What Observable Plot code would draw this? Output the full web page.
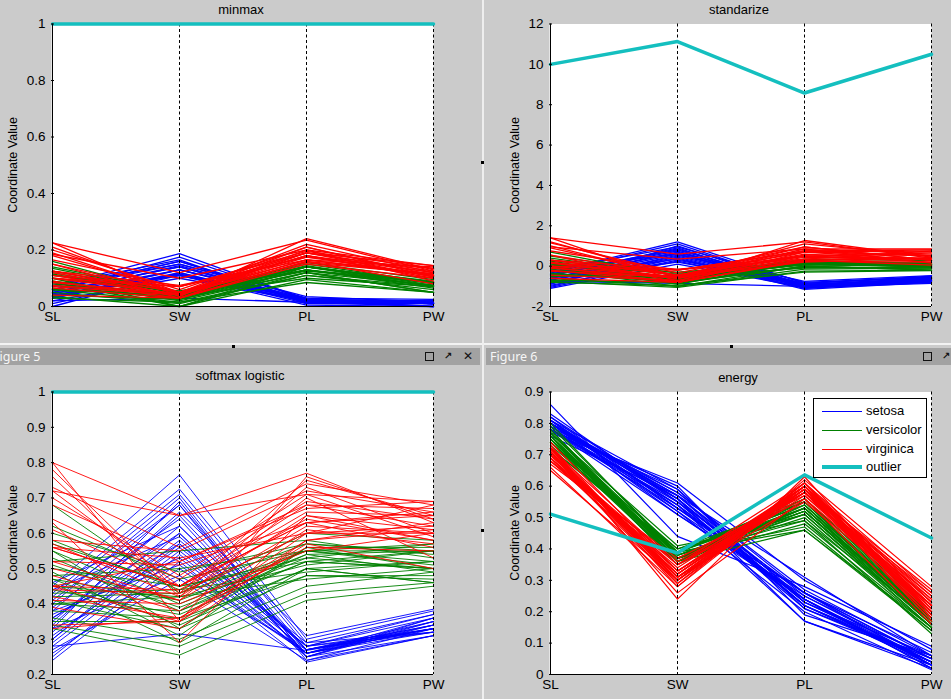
<!DOCTYPE html>
<html><head><meta charset="utf-8">
<script src="https://cdn.jsdelivr.net/npm/d3@7"></script>
<script src="https://cdn.jsdelivr.net/npm/@observablehq/plot@0.6"></script>
<style>
html,body{margin:0;padding:0}
body{width:951px;height:699px;overflow:hidden;background:#cbcbcb;font-family:"Liberation Sans",Arial,sans-serif;position:relative}
.abs{position:absolute}
.title{position:absolute;font-size:13px;color:#000;transform:translate(-50%,-50%);white-space:nowrap}
.ylab{position:absolute;font-size:12.5px;color:#000;transform:translate(-50%,-50%) rotate(-90deg);white-space:nowrap}
.bar{position:absolute;background:#a2a2a2;height:17px;top:348px;overflow:hidden}
.bar span.t{position:absolute;top:0px;font-family:"Noto Sans","Open Sans",sans-serif;font-size:12.5px;color:#f6f6f6;line-height:17px;white-space:nowrap}
.sq{position:absolute;width:7px;height:7px;border:1.5px solid #111;top:352px}
.ic{position:absolute;font-family:"DejaVu Sans",sans-serif;font-size:12px;color:#111;top:349px;line-height:14px;font-weight:bold}
.dot{position:absolute;width:3px;height:3px;background:#000}
.legend{position:absolute;left:813px;top:398px;width:112px;height:78px;border:1px solid #000;background:#fff}
.legend .row{position:absolute;left:0;height:16px;width:112px}
.legend .sw{position:absolute;left:8px;width:40px}
.legend .lt{position:absolute;left:52px;font-size:13px;line-height:16px;top:0}
</style></head><body>
<script>
// ---------- data ----------
const dims = ["SL", "SW", "PL", "PW"];
const species = ["setosa", "versicolor", "virginica", "outlier"];
const colors = ["#0000ff", "#008000", "#ff0000", "#14bfbf"];

// minmax
const mmSetosa = [
  [0.05,0.14,0.02,0.01],[0.04,0.11,0.02,0.01],[0.03,0.12,0.01,0.01],[0.03,0.115,0.025,0.01],
  [0.045,0.145,0.02,0.01],[0.06,0.16,0.03,0.025],[0.03,0.13,0.02,0.02],[0.045,0.13,0.025,0.01],
  [0.02,0.10,0.02,0.01],[0.04,0.115,0.025,0.0],[0.06,0.15,0.025,0.01],[0.035,0.13,0.03,0.01],
  [0.035,0.11,0.02,0.0],[0.01,0.11,0.005,0.0],[0.075,0.165,0.01,0.01],[0.07,0.187,0.025,0.02],
  [0.06,0.16,0.015,0.02],[0.05,0.14,0.02,0.015],[0.07,0.15,0.035,0.015],[0.02,0.03,0.015,0.015],
  [0.0,0.12,0.015,0.0],[0.055,0.175,0.025,0.01]
];
const mmVersicolor = [
  [0.14,0.05,0.14,0.08],[0.11,0.05,0.13,0.085],[0.135,0.045,0.15,0.085],[0.05,0.01,0.11,0.07],
  [0.115,0.03,0.14,0.085],[0.065,0.03,0.13,0.07],[0.10,0.055,0.14,0.09],[0.03,0.015,0.085,0.05],
  [0.12,0.035,0.14,0.07],[0.04,0.025,0.12,0.075],[0.035,0.0,0.095,0.05],[0.08,0.04,0.125,0.085],
  [0.085,0.0,0.12,0.05],[0.09,0.035,0.145,0.075],[0.06,0.035,0.10,0.07],[0.125,0.045,0.13,0.075],
  [0.06,0.04,0.14,0.085],[0.09,0.02,0.12,0.05],[0.10,0.0,0.14,0.085],[0.06,0.015,0.11,0.06],
  [0.16,0.04,0.155,0.095],[0.075,0.025,0.13,0.065]
];
const mmVirginica = [
  [0.10,0.07,0.19,0.145],[0.07,0.04,0.165,0.11],[0.18,0.05,0.19,0.12],[0.10,0.045,0.18,0.105],
  [0.125,0.05,0.19,0.125],[0.21,0.05,0.22,0.12],[0.04,0.03,0.15,0.10],[0.19,0.045,0.21,0.105],
  [0.15,0.03,0.19,0.105],[0.185,0.10,0.20,0.145],[0.125,0.075,0.165,0.115],[0.11,0.04,0.175,0.11],
  [0.15,0.05,0.18,0.12],[0.065,0.03,0.16,0.115],[0.075,0.045,0.165,0.14],[0.11,0.07,0.175,0.135],
  [0.125,0.05,0.18,0.10],[0.225,0.12,0.235,0.125],[0.225,0.035,0.24,0.13],[0.09,0.03,0.16,0.08],
  [0.165,0.07,0.195,0.135],[0.085,0.045,0.155,0.115],[0.20,0.06,0.21,0.11],[0.12,0.04,0.20,0.09]
];
const mmOutlier = [1, 1, 1, 1];
const mmTicks = [0, 0.2, 0.4, 0.6, 0.8, 1];

// standarize
const stSetosa = [
  [-0.9,1.0,-1.0,-0.7],[-1.1,0.1,-1.05,-0.75],[-0.4,0.8,-0.9,-0.6],[-0.8,0.5,-1.0,-0.8],
  [-0.6,0.7,-0.95,-0.7],[-0.3,1.2,-0.85,-0.5],[-0.5,0.9,-1.1,-0.65],[-0.95,0.3,-0.9,-0.75],
  [-0.7,0.6,-1.0,-0.6],[-0.2,0.95,-0.8,-0.55],[-1.0,0.4,-1.15,-0.8],[-0.65,0.2,-0.95,-0.7],
  [-0.45,0.75,-1.05,-0.72],[-0.85,0.55,-0.9,-0.66],[-0.55,0.35,-1.0,-0.58],[-0.75,-0.85,-1.0,-0.7],
  [-0.35,1.1,-0.95,-0.6],[-0.6,0.65,-0.75,-0.47],[-0.85,0.45,-1.1,-0.78],[-0.15,0.6,-0.85,-0.55],
  [-1.05,0.25,-1.05,-0.85],[-0.4,0.85,-1.0,-0.62]
];
const stVersicolor = [
  [0.5,-0.35,0.2,0.05],[0.1,-0.4,0.1,0.1],[0.4,-0.45,0.3,0.1],[-0.6,-1.0,-0.15,-0.1],
  [0.15,-0.7,0.15,0.1],[-0.4,-0.7,0.1,-0.05],[0.05,-0.3,0.2,0.15],[-0.8,-0.95,-0.3,-0.22],
  [0.25,-0.65,0.15,-0.05],[-0.7,-0.8,0.0,0.05],[-0.75,-1.05,-0.25,-0.2],[-0.2,-0.5,0.05,0.1],
  [-0.15,-1.0,0.0,-0.2],[-0.1,-0.6,0.2,0.0],[-0.45,-0.55,-0.1,-0.05],[0.3,-0.45,0.1,0.0],
  [-0.5,-0.5,0.2,0.1],[-0.05,-0.85,0.0,-0.2],[0.0,-0.9,0.25,0.15],[-0.35,-0.8,-0.05,-0.1],
  [0.7,-0.5,0.35,0.28],[-0.25,-0.65,0.1,0.0]
];
const stVirginica = [
  [0.0,-0.2,0.75,0.8],[-0.45,-0.7,0.45,0.4],[0.9,-0.5,0.75,0.5],[0.0,-0.55,0.6,0.3],
  [0.3,-0.45,0.7,0.55],[1.2,-0.5,1.1,0.5],[-0.6,-0.8,0.25,0.2],[1.0,-0.55,0.95,0.3],
  [0.55,-0.8,0.7,0.3],[0.95,0.35,0.85,0.85],[0.3,-0.15,0.35,0.4],[0.15,-0.6,0.5,0.35],
  [0.55,-0.45,0.55,0.55],[-0.2,-0.8,0.3,0.4],[-0.1,-0.6,0.35,0.75],[0.15,-0.2,0.5,0.65],
  [0.3,-0.45,0.5,0.2],[1.4,0.6,1.2,0.4],[1.4,-0.75,1.27,0.45],[-0.05,-0.8,0.3,0.05],
  [0.75,-0.2,0.75,0.7],[-0.25,-0.55,0.2,0.4],[1.15,-0.35,0.95,0.3],[0.2,-0.55,0.85,0.15]
];
const stOutlier = [10.0, 11.13, 8.58, 10.5];
const stTicks = [-2, 0, 2, 4, 6, 8, 10, 12];

// softmax logistic
const smSetosa = [
  [0.32,0.62,0.27,0.33],[0.26,0.50,0.26,0.33],[0.40,0.70,0.25,0.35],[0.30,0.58,0.28,0.32],
  [0.35,0.65,0.27,0.34],[0.45,0.765,0.30,0.38],[0.38,0.68,0.24,0.33],[0.28,0.55,0.27,0.32],
  [0.36,0.60,0.26,0.36],[0.43,0.725,0.29,0.37],[0.24,0.52,0.235,0.31],[0.33,0.48,0.27,0.33],
  [0.39,0.64,0.25,0.34],[0.31,0.56,0.28,0.33],[0.37,0.53,0.26,0.35],[0.28,0.315,0.268,0.33],
  [0.42,0.71,0.28,0.36],[0.34,0.66,0.31,0.385],[0.29,0.57,0.25,0.31],[0.46,0.62,0.27,0.34],
  [0.25,0.54,0.26,0.32],[0.41,0.68,0.27,0.35],[0.30,0.60,0.26,0.34],[0.36,0.57,0.29,0.32],
  [0.33,0.69,0.25,0.36],[0.27,0.47,0.24,0.31],[0.44,0.59,0.28,0.37],[0.38,0.51,0.26,0.33]
];
const smVersicolor = [
  [0.62,0.47,0.55,0.52],[0.50,0.45,0.52,0.55],[0.58,0.44,0.57,0.55],[0.36,0.30,0.45,0.49],
  [0.53,0.38,0.54,0.55],[0.40,0.38,0.52,0.50],[0.48,0.50,0.55,0.57],[0.33,0.255,0.41,0.45],
  [0.55,0.40,0.54,0.49],[0.35,0.35,0.50,0.52],[0.34,0.28,0.43,0.46],[0.45,0.42,0.51,0.55],
  [0.46,0.29,0.50,0.46],[0.47,0.41,0.55,0.51],[0.40,0.42,0.47,0.50],[0.57,0.45,0.53,0.50],
  [0.42,0.43,0.55,0.55],[0.47,0.34,0.50,0.46],[0.49,0.31,0.56,0.56],[0.41,0.33,0.48,0.48],
  [0.68,0.43,0.60,0.58],[0.44,0.37,0.52,0.50],[0.52,0.55,0.58,0.53],[0.60,0.49,0.57,0.54],
  [0.38,0.36,0.48,0.47],[0.51,0.39,0.53,0.57],[0.43,0.44,0.49,0.52],[0.55,0.33,0.56,0.50]
];
const smVirginica = [
  [0.45,0.52,0.67,0.69],[0.34,0.35,0.60,0.60],[0.72,0.45,0.68,0.62],[0.45,0.44,0.64,0.58],
  [0.56,0.45,0.66,0.65],[0.78,0.43,0.75,0.65],[0.33,0.36,0.56,0.55],[0.76,0.42,0.73,0.60],
  [0.63,0.29,0.65,0.58],[0.72,0.65,0.71,0.69],[0.56,0.53,0.60,0.62],[0.50,0.41,0.62,0.60],
  [0.61,0.45,0.63,0.65],[0.42,0.36,0.58,0.61],[0.44,0.43,0.60,0.68],[0.52,0.51,0.63,0.66],
  [0.56,0.45,0.63,0.56],[0.80,0.65,0.77,0.63],[0.80,0.35,0.76,0.64],[0.45,0.35,0.57,0.50],
  [0.68,0.52,0.68,0.67],[0.41,0.40,0.55,0.60],[0.70,0.48,0.71,0.59],[0.52,0.41,0.70,0.53],
  [0.58,0.55,0.72,0.66],[0.64,0.47,0.69,0.64],[0.48,0.38,0.61,0.57],[0.73,0.56,0.74,0.68],
  [0.57,0.42,0.65,0.61],[0.39,0.33,0.58,0.63]
];
const smOutlier = [1, 1, 1, 1];
const smTicks = [0.2, 0.3, 0.4, 0.5, 0.6, 0.7, 0.8, 0.9, 1];

// energy
const enSetosa = [
  [0.80,0.56,0.23,0.04],[0.79,0.52,0.24,0.04],[0.81,0.55,0.22,0.04],[0.78,0.53,0.26,0.05],
  [0.80,0.57,0.22,0.04],[0.80,0.58,0.26,0.07],[0.78,0.56,0.23,0.06],[0.80,0.54,0.24,0.03],
  [0.78,0.51,0.25,0.04],[0.81,0.53,0.24,0.02],[0.80,0.57,0.24,0.03],[0.78,0.55,0.26,0.03],
  [0.80,0.51,0.24,0.02],[0.80,0.54,0.17,0.02],[0.82,0.56,0.17,0.03],[0.78,0.59,0.21,0.05],
  [0.78,0.60,0.19,0.06],[0.80,0.56,0.22,0.05],[0.79,0.58,0.27,0.06],[0.86,0.44,0.28,0.09],
  [0.77,0.61,0.30,0.08],[0.83,0.55,0.21,0.04],[0.76,0.57,0.31,0.06],[0.81,0.52,0.20,0.015],
  [0.79,0.57,0.25,0.05],[0.81,0.59,0.23,0.04],[0.78,0.54,0.22,0.03],[0.82,0.53,0.26,0.05]
];
const enVersicolor = [
  [0.75,0.36,0.53,0.17],[0.75,0.38,0.52,0.18],[0.76,0.36,0.53,0.17],[0.76,0.35,0.54,0.18],
  [0.76,0.37,0.53,0.18],[0.74,0.39,0.54,0.16],[0.74,0.39,0.53,0.18],[0.79,0.39,0.46,0.15],
  [0.76,0.37,0.52,0.16],[0.72,0.40,0.55,0.19],[0.78,0.36,0.46,0.14],[0.74,0.39,0.54,0.19],
  [0.78,0.37,0.48,0.15],[0.75,0.37,0.55,0.17],[0.77,0.41,0.49,0.17],[0.76,0.38,0.52,0.17],
  [0.73,0.39,0.55,0.18],[0.77,0.37,0.50,0.15],[0.74,0.36,0.56,0.19],[0.76,0.37,0.51,0.15],
  [0.72,0.39,0.56,0.20],[0.77,0.39,0.47,0.14],[0.75,0.40,0.51,0.16],[0.80,0.38,0.49,0.13],
  [0.76,0.38,0.53,0.17],[0.75,0.37,0.52,0.16],[0.77,0.38,0.51,0.16]
];
const enVirginica = [
  [0.69,0.34,0.60,0.25],[0.71,0.31,0.59,0.22],[0.71,0.30,0.60,0.20],[0.70,0.32,0.59,0.19],
  [0.70,0.32,0.60,0.22],[0.72,0.29,0.61,0.20],[0.70,0.31,0.57,0.21],[0.73,0.30,0.59,0.17],
  [0.72,0.28,0.60,0.19],[0.68,0.36,0.58,0.25],[0.70,0.35,0.56,0.22],[0.71,0.30,0.58,0.21],
  [0.70,0.33,0.59,0.23],[0.69,0.29,0.59,0.23],[0.68,0.32,0.59,0.27],[0.68,0.35,0.58,0.26],
  [0.71,0.33,0.58,0.20],[0.72,0.35,0.61,0.19],[0.73,0.24,0.63,0.19],[0.71,0.26,0.56,0.16],
  [0.69,0.33,0.60,0.24],[0.71,0.31,0.55,0.22],[0.72,0.31,0.60,0.18],[0.66,0.28,0.62,0.28],
  [0.65,0.30,0.61,0.26],[0.74,0.33,0.58,0.18],[0.67,0.37,0.57,0.24],[0.70,0.31,0.61,0.23],
  [0.71,0.32,0.60,0.21],[0.69,0.30,0.58,0.22]
];
const enOutlier = [0.511, 0.387, 0.636, 0.435];
const enTicks = [0, 0.1, 0.2, 0.3, 0.4, 0.5, 0.6, 0.7, 0.8, 0.9];

// ---------- drawing ----------
function panel(cfg) {
  const rows = [];
  cfg.sets.forEach((arr, s) => arr.forEach((vals, i) => vals.forEach((v, j) =>
    rows.push({id: species[s] + i, species: species[s], dim: dims[j], value: v}))));
  const outRows = cfg.outlier.map((v, j) => ({dim: dims[j], value: v}));
  const y0 = cfg.ticks[0], y1 = cfg.ticks[cfg.ticks.length - 1];
  const svg = Plot.plot({
    width: cfg.width, height: cfg.height,
    marginLeft: cfg.mL, marginRight: cfg.mR, marginTop: cfg.mT, marginBottom: cfg.mB,
    style: {background: "transparent", fontFamily: "Liberation Sans, Arial, sans-serif", fontSize: "13.5px", color: "#000", overflow: "visible"},
    x: {type: "point", domain: dims, padding: 0, axis: null, label: null},
    y: {domain: [y0, y1], axis: null, label: null},
    color: {domain: species, range: colors},
    marks: [
      Plot.frame({fill: "white", stroke: "none"}),
      Plot.line(rows, {x: "dim", y: "value", z: "id", stroke: "species", strokeWidth: cfg.lw}),
      Plot.ruleX(dims.slice(1), {stroke: "black", strokeWidth: 1, strokeDasharray: "3,2.5"}),
      Plot.line(outRows, {x: "dim", y: "value", stroke: colors[3], strokeWidth: 3.5}),
      Plot.ruleX([dims[0]], {stroke: "black", strokeWidth: 1}),
      Plot.ruleY([y0], {stroke: "black", strokeWidth: 1}),
      Plot.axisY(cfg.ticks, {tickSize: 0, tickPadding: 6, tickFormat: d => String(d), label: null}),
      Plot.axisY(cfg.ticks, {tickSize: 3, dx: 3, tickFormat: () => "", label: null}),
      Plot.axisX(dims, {tickSize: 0, tickPadding: 5, label: null})
    ]
  });
  svg.style.position = "absolute";
  svg.style.left = cfg.left + "px";
  svg.style.top = cfg.top + "px";
  document.body.appendChild(svg);
}

function el(cls, css, text) {
  const d = document.createElement("div");
  d.className = cls;
  Object.assign(d.style, css);
  if (text != null) d.textContent = text;
  document.body.appendChild(d);
  return d;
}

// window chrome
el("abs", {left: "0px", top: "343px", width: "951px", height: "2px", background: "#f2f2f2"});
el("abs", {left: "482px", top: "0px", width: "2px", height: "699px", background: "#eeeeee"});
const b5 = el("bar", {left: "0px", width: "480px"});
const t5 = document.createElement("span"); t5.className = "t"; t5.style.left = "-7px"; t5.textContent = "Figure 5"; b5.appendChild(t5);
const b6 = el("bar", {left: "486px", width: "465px"});
const t6 = document.createElement("span"); t6.className = "t"; t6.style.left = "4px"; t6.textContent = "Figure 6"; b6.appendChild(t6);
el("sq", {left: "425px"});
el("ic", {left: "444px", fontSize: "10px"}, "↗");
el("ic", {left: "463px"}, "✕");
el("sq", {left: "923px"});
el("ic", {left: "942px", fontSize: "10px"}, "↗");
el("dot", {left: "481px", top: "161px"});
el("dot", {left: "232px", top: "345px"});
el("dot", {left: "730px", top: "345px"});
el("dot", {left: "481px", top: "529px"});

// panels
panel({sets: [mmSetosa, mmVersicolor, mmVirginica], outlier: mmOutlier, ticks: mmTicks, lw: 1.3,
  left: 0, top: 15, width: 480, height: 320, mL: 51, mR: 47, mT: 8.5, mB: 29});
panel({sets: [stSetosa, stVersicolor, stVirginica], outlier: stOutlier, ticks: stTicks, lw: 1.3,
  left: 480, top: 15, width: 471, height: 320, mL: 69, mR: 20, mT: 8.5, mB: 29});
panel({sets: [smSetosa, smVersicolor, smVirginica], outlier: smOutlier, ticks: smTicks, lw: 0.9,
  left: 0, top: 383, width: 480, height: 316, mL: 51, mR: 47, mT: 8.5, mB: 25});
panel({sets: [enSetosa, enVersicolor, enVirginica], outlier: enOutlier, ticks: enTicks, lw: 1.2,
  left: 480, top: 383, width: 471, height: 316, mL: 69, mR: 20, mT: 8.5, mB: 25});

// titles and axis labels
el("title", {left: "241px", top: "8.5px"}, "minmax");
el("title", {left: "739px", top: "8.5px"}, "standarize");
el("title", {left: "240px", top: "375px"}, "softmax logistic");
el("title", {left: "738px", top: "377px"}, "energy");
el("ylab", {left: "13px", top: "165px"}, "Coordinate Value");
el("ylab", {left: "515px", top: "165px"}, "Coordinate Value");
el("ylab", {left: "13px", top: "533px"}, "Coordinate Value");
el("ylab", {left: "515px", top: "533px"}, "Coordinate Value");

// legend (energy panel)
const lg = el("legend", {});
const legendRows = [
  {name: "setosa", w: 1, top: 4},
  {name: "versicolor", w: 1, top: 23},
  {name: "virginica", w: 1, top: 42},
  {name: "outlier", w: 4, top: 60}
];
legendRows.forEach((r, i) => {
  const row = document.createElement("div"); row.className = "row"; row.style.top = r.top + "px";
  const sw = document.createElement("div"); sw.className = "sw";
  sw.style.top = Math.round(8 - r.w / 2) + "px"; sw.style.height = r.w + "px"; sw.style.background = colors[i];
  const lt = document.createElement("div"); lt.className = "lt"; lt.textContent = r.name;
  row.appendChild(sw); row.appendChild(lt); lg.appendChild(row);
});
</script>
</body></html>
